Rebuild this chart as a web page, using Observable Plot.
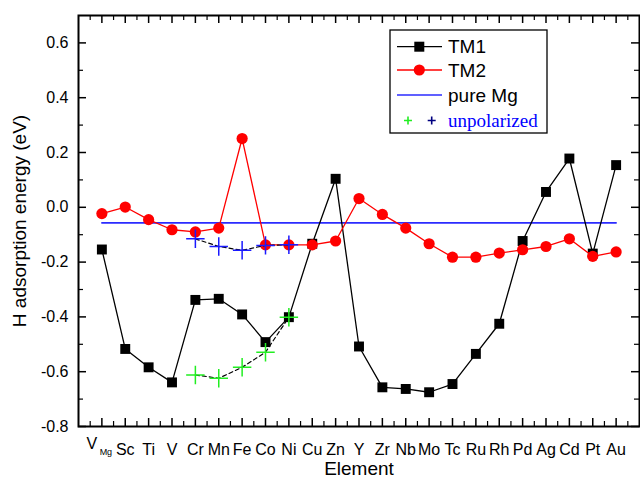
<!DOCTYPE html>
<html><head><meta charset="utf-8">
<script src="https://cdn.jsdelivr.net/npm/d3@7"></script>
<script src="https://cdn.jsdelivr.net/npm/@observablehq/plot@0.6"></script>
<style>body{margin:0;background:#fff}</style>
</head><body><div id="chart"></div>
<script>
// categories (index 0 is the Mg vacancy, drawn as V with subscript Mg)
const elements = ["V","Sc","Ti","V","Cr","Mn","Fe","Co","Ni","Cu","Zn","Y","Zr","Nb","Mo","Tc","Ru","Rh","Pd","Ag","Cd","Pt","Au"];
const tm1 = [-0.154,-0.517,-0.584,-0.639,-0.338,-0.334,-0.391,-0.492,-0.401,-0.133,0.104,-0.508,-0.657,-0.663,-0.675,-0.645,-0.535,-0.425,-0.123,0.056,0.178,-0.169,0.154];
const tm2 = [-0.023,0.001,-0.045,-0.082,-0.090,-0.076,0.251,-0.137,-0.137,-0.137,-0.123,0.032,-0.026,-0.076,-0.133,-0.182,-0.182,-0.167,-0.155,-0.143,-0.115,-0.179,-0.163];
const pureMg = -0.057;
const unpolIdx = [4,5,6,7,8];            // Cr, Mn, Fe, Co, Ni
const unpolTM1 = [-0.612,-0.624,-0.584,-0.529,-0.401];
const unpolTM2 = [-0.115,-0.143,-0.157,-0.139,-0.137];
const yTicks = [-0.8,-0.6,-0.4,-0.2,0.0,0.2,0.4,0.6];
const yMinor = [-0.7,-0.5,-0.3,-0.1,0.1,0.3,0.5];
const xMajor = d3.range(0, 23);
const xMinor = d3.range(0, 24).map(i => i - 0.5);

const W = 640, H = 486, mL = 78, mR = 1, mT = 15, mB = 60;
const fw = W - mL - mR, fh = H - mT - mB;
const font = "Liberation Sans, Arial, Helvetica, sans-serif";

const idx = (d, i) => i;
const plot = Plot.plot({
  width: W, height: H,
  marginLeft: mL, marginRight: mR, marginTop: mT, marginBottom: mB,
  style: {fontFamily: font, fontSize: "16px", color: "black", background: "white"},
  x: {domain: [-1, 23]},
  y: {domain: [-0.8, 0.7]},
  marks: [
    // ticks (inward)
    Plot.tickX(xMajor, {x: d => d, insetTop: fh - 8, stroke: "black", strokeWidth: 1.5}),
    Plot.tickX(xMajor, {x: d => d, insetBottom: fh - 8, stroke: "black", strokeWidth: 1.5}),
    Plot.tickX(xMinor, {x: d => d, insetTop: fh - 5, stroke: "black", strokeWidth: 1.2}),
    Plot.tickX(xMinor, {x: d => d, insetBottom: fh - 5, stroke: "black", strokeWidth: 1.2}),
    Plot.tickY(yTicks, {y: d => d, insetRight: fw - 8, stroke: "black", strokeWidth: 1.5}),
    Plot.tickY(yTicks, {y: d => d, insetLeft: fw - 8, stroke: "black", strokeWidth: 1.5}),
    Plot.tickY(yMinor, {y: d => d, insetRight: fw - 5, stroke: "black", strokeWidth: 1.2}),
    Plot.tickY(yMinor, {y: d => d, insetLeft: fw - 5, stroke: "black", strokeWidth: 1.2}),
    Plot.frame({stroke: "black", strokeWidth: 2}),
    // axes labels
    Plot.axisX(d3.range(1, 23), {tickSize: 0, tickPadding: 17, fontSize: 16, tickFormat: i => elements[i], label: null}),
    Plot.text([0], {x: d => d, text: () => "V", frameAnchor: "bottom", dy: 22, dx: -10, fontSize: 16}),
    Plot.text([0], {x: d => d, text: () => "Mg", frameAnchor: "bottom", dy: 28, dx: 4, fontSize: 9}),
    Plot.axisY(yTicks, {tickSize: 0, tickPadding: 10, fontSize: 16, tickFormat: d => d.toFixed(1), label: null}),
    Plot.text(["Element"], {frameAnchor: "bottom", dy: 48, fontSize: 19}),
    Plot.text(["H adsorption energy (eV)"], {frameAnchor: "left", textAnchor: "middle", dx: -59, rotate: -90, fontSize: 19}),
    // pure Mg
    Plot.line([0, 22], {x: d => d, y: () => pureMg, stroke: "#2b2bff", strokeWidth: 1.6}),
    // TM1
    Plot.line(tm1, {x: idx, y: d => d, stroke: "black", strokeWidth: 1.3}),
    Plot.dot(tm1, {x: idx, y: d => d, symbol: "square", r: 5.6, fill: "black"}),
    // TM2
    Plot.line(tm2, {x: idx, y: d => d, stroke: "#ff0000", strokeWidth: 1.3}),
    Plot.dot(tm2, {x: idx, y: d => d, symbol: "circle", r: 5.6, fill: "#ff0000"}),
    // unpolarized
    Plot.line(unpolIdx, {x: d => d, y: (d, i) => unpolTM1[i], stroke: "black", strokeWidth: 1.2, strokeDasharray: "4,3"}),
    Plot.line(unpolIdx, {x: d => d, y: (d, i) => unpolTM2[i], stroke: "black", strokeWidth: 1.2, strokeDasharray: "4,3"}),
    Plot.dot(unpolIdx, {x: d => d, y: (d, i) => unpolTM1[i], symbol: "plus", r: 6, stroke: "#22ee22", strokeWidth: 1.5}),
    Plot.dot(unpolIdx, {x: d => d, y: (d, i) => unpolTM2[i], symbol: "plus", r: 6, stroke: "#1a1aff", strokeWidth: 1.5})
  ]
});
document.getElementById("chart").appendChild(plot);

// legend
const svg = d3.select(plot);
const lg = svg.append("g").attr("font-family", font).attr("font-size", 19).attr("text-anchor", "start");
lg.append("rect").attr("x", 390).attr("y", 30).attr("width", 157).attr("height", 103)
  .attr("fill", "white").attr("stroke", "black").attr("stroke-width", 1.3);
const rows = [
  {y: 46.7, label: "TM1", color: "black", marker: "square"},
  {y: 70, label: "TM2", color: "#ff0000", marker: "circle"},
  {y: 95, label: "pure Mg", color: "#2b2bff", marker: null}
];
rows.forEach(r => {
  lg.append("line").attr("x1", 397).attr("x2", 442).attr("y1", r.y).attr("y2", r.y)
    .attr("stroke", r.color).attr("stroke-width", r.marker ? 1.3 : 1.6);
  if (r.marker === "square") lg.append("rect").attr("x", 414.3).attr("y", r.y - 5).attr("width", 10).attr("height", 10).attr("fill", r.color);
  if (r.marker === "circle") lg.append("circle").attr("cx", 419.3).attr("cy", r.y).attr("r", 5.6).attr("fill", r.color);
  lg.append("text").attr("x", 448).attr("y", r.y).attr("dy", "0.35em").attr("fill", "black").text(r.label);
});
const plus = (cx, cy, c) => lg.append("path").attr("d", `M${cx-4},${cy}H${cx+4}M${cx},${cy-4}V${cy+4}`)
  .attr("stroke", c).attr("stroke-width", 1.6).attr("fill", "none");
plus(408, 120.5, "#22ee22");
plus(431.7, 120.5, "#000080");
lg.append("text").attr("x", 448).attr("y", 121.7).attr("dy", "0.3em")
  .attr("font-family", "Liberation Serif, Times New Roman, serif").attr("fill", "#0000ff").text("unpolarized");
</script>
</body></html>
